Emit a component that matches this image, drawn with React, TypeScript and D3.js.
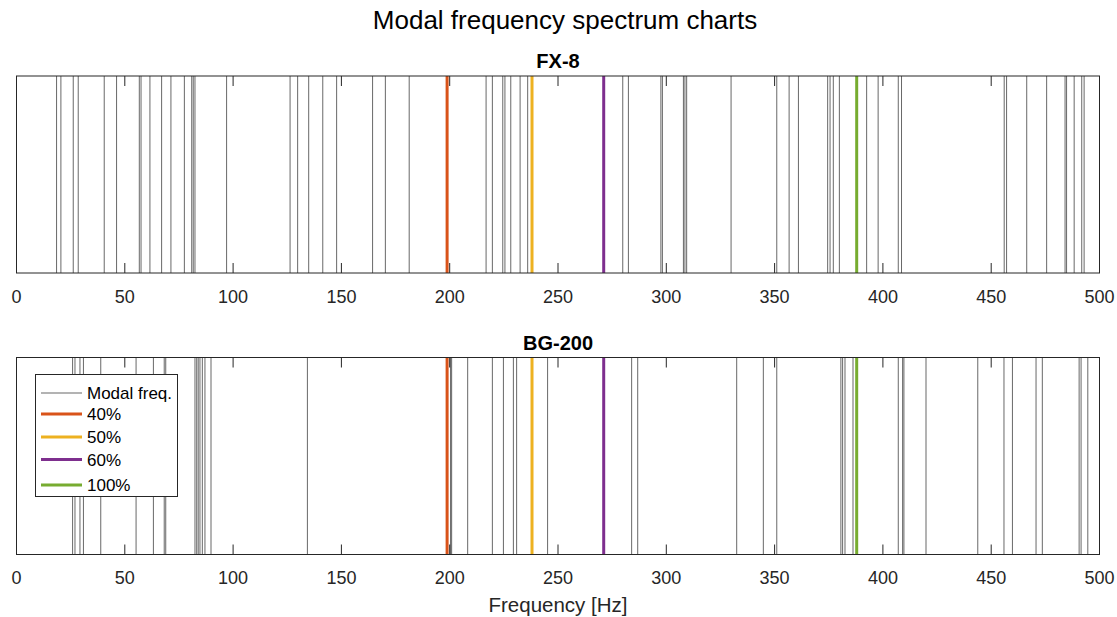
import React from "react";
import * as d3 from "d3";

const fx8Modes = [18.5, 20.5, 26.2, 28.5, 40.5, 46.2, 56.7, 57.5, 61.6, 67.0, 71.3, 77.5, 80.9, 81.6, 82.4, 97.0,
  126.3, 129.8, 134.9, 141.4, 147.8, 164.4, 170.3, 181.3,
  216.8, 219.7, 224.5, 225.5, 228.2, 232.5, 236.0, 279.9, 282.5, 297.5, 298.2,
  307.9, 308.6, 309.4, 329.9, 351.0, 356.7, 361.0, 374.5, 375.6, 377.1, 379.9, 392.5, 397.8,
  407.1, 408.6, 456.0, 457.1, 466.4, 475.6, 484.1, 484.8, 488.3, 491.8, 492.9];

const bg200Modes = [25.9, 27.0, 29.3, 30.9, 38.9, 55.2, 63.2, 68.2, 68.9, 82.4, 83.2, 83.9, 84.7, 85.8, 87.0, 89.8,
  134.3, 200.4, 200.9, 208.3, 219.7, 224.8, 229.4, 230.9, 245.2, 284.0, 286.8,
  332.5, 344.8, 351.0, 380.6, 381.4, 382.5, 386.2,
  407.1, 409.1, 409.7, 419.9, 443.8, 455.9, 459.8, 470.7, 473.6, 490.6, 491.5, 494.6];

const refLabels = ["40%", "50%", "60%", "100%"];
const refFreqs = [198.8, 238.0, 271.1, 387.9];
const refColors = ["#D95319", "#EDB120", "#7E2F8E", "#77AC30"];
const xTicks = [0, 50, 100, 150, 200, 250, 300, 350, 400, 450, 500];

const panels = [
  { title: "FX-8", modes: fx8Modes, top: 76, legend: false },
  { title: "BG-200", modes: bg200Modes, top: 357.5, legend: true },
];

const W = 1117, H = 617;
const PH = 197;
const FONT = "'Liberation Sans', Arial, Helvetica, sans-serif";

export default function App() {
  const x = d3.scaleLinear().domain([0, 500]).range([16.5, 1099.5]);
  const legendRows = [414, 437, 459.5, 485];
  return (
    <svg width={W} height={H} style={{ position: "absolute", left: 0, top: 0, background: "#fff" }} fontFamily={FONT}>
      <rect width={W} height={H} fill="#fff" />
      <text x={565} y={29} textAnchor="middle" fontSize={26} fill="#000">Modal frequency spectrum charts</text>
      {panels.map((p) => {
        const y0 = p.top, y1 = p.top + PH;
        return (
          <g key={p.title}>
            <text x={558} y={y0 - 8} textAnchor="middle" fontSize={20} fontWeight="bold" fill="#000">{p.title}</text>
            {p.modes.map((f, i) => (
              <line key={i} x1={x(f)} x2={x(f)} y1={y0} y2={y1} stroke="#000" strokeWidth={0.6} />
            ))}
            {refFreqs.map((f, i) => (
              <line key={"r" + i} x1={x(f)} x2={x(f)} y1={y0} y2={y1} stroke={refColors[i]} strokeWidth={3} />
            ))}
            {xTicks.map((t) => (
              <g key={t}>
                <line x1={x(t)} x2={x(t)} y1={y1} y2={y1 - 10} stroke="#262626" strokeWidth={1} />
                <line x1={x(t)} x2={x(t)} y1={y0} y2={y0 + 10} stroke="#262626" strokeWidth={1} />
                <text x={x(t)} y={y1 + 29.5} textAnchor="middle" fontSize={18} fill="#262626">{t}</text>
              </g>
            ))}
            <rect x={16.5} y={y0} width={1083} height={PH} fill="none" stroke="#262626" strokeWidth={1} />
            {p.legend && (
              <g>
                <rect x={35.5} y={374.5} width={142} height={122} fill="#fff" stroke="#262626" strokeWidth={1} />
                <line x1={41} x2={82} y1={393} y2={393} stroke="#000" strokeWidth={0.6} />
                <text x={87} y={399} fontSize={17} fill="#000">Modal freq.</text>
                {refLabels.map((l, i) => (
                  <g key={l}>
                    <line x1={41} x2={82} y1={legendRows[i]} y2={legendRows[i]} stroke={refColors[i]} strokeWidth={3} />
                    <text x={87} y={legendRows[i] + 6} fontSize={17} fill="#000">{l}</text>
                  </g>
                ))}
              </g>
            )}
          </g>
        );
      })}
      <text x={558} y={612} textAnchor="middle" fontSize={20.5} fill="#262626">Frequency [Hz]</text>
    </svg>
  );
}
